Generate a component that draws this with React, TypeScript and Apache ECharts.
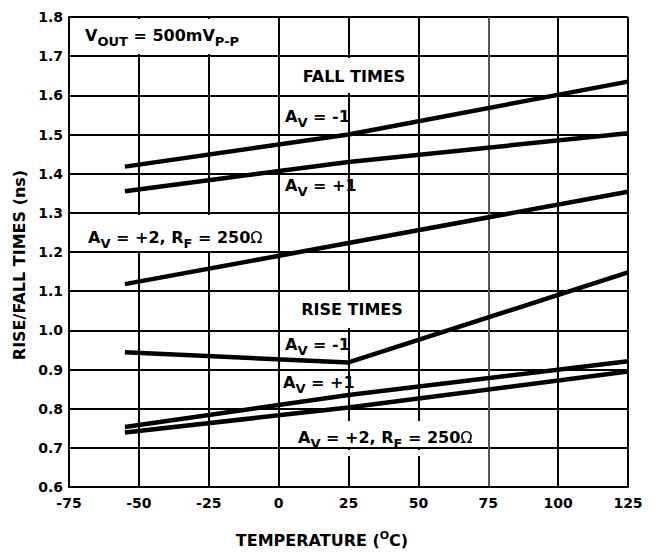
import React, { useEffect, useRef } from 'react';
import * as echarts from 'echarts';

// Temperatures (°C) at which each curve is read
const temperatures = [-55, 25, 125];

// Fall times (ns)
const fallAvMinus1 = [1.418, 1.5, 1.635];
const fallAvPlus1 = [1.355, 1.43, 1.503];
const fallAvPlus2 = [1.118, 1.223, 1.354];

// Rise times (ns)
const riseAvMinus1 = [0.944, 0.918, 1.148];
const riseAvPlus1 = [0.753, 0.835, 0.921];
const riseAvPlus2 = [0.739, 0.803, 0.895];

const FONT = 'DejaVu Sans';

const pairs = (ys: number[]) => temperatures.map((t, i) => [t, ys[i]]);

const rich = {
  m: { fontSize: 16, fontWeight: 'bold', fontFamily: FONT, fill: '#000' },
  s: { fontSize: 13, fontWeight: 'bold', fontFamily: FONT, fill: '#000', padding: [12, 0, 0, 0] },
  o: { fontSize: 16, fontWeight: 'normal', fontFamily: FONT, fill: '#000' },
  sup: { fontSize: 11, fontWeight: 'bold', fontFamily: FONT, fill: '#000', padding: [0, 0, 10, 0] },
};

const label = (text: string, x: number, y: number, align: string = 'left', rotation = 0) => ({
  type: 'text',
  x,
  y,
  z: 10,
  rotation,
  style: { text, rich, align, verticalAlign: 'middle', fill: '#000', fontFamily: FONT, fontWeight: 'bold', fontSize: 16 },
});

const box = (x: number, y: number, w: number, h: number) => ({
  type: 'rect',
  z: 1,
  shape: { x, y, width: w, height: h },
  style: { fill: '#fff' },
});

export default function App() {
  const ref = useRef<HTMLDivElement>(null);
  useEffect(() => {
    const chart = echarts.init(ref.current!, null, { renderer: 'svg' });
    const lineSeries = (data: number[]) => ({
      type: 'line',
      data: pairs(data),
      symbol: 'none',
      z: 3,
      lineStyle: { color: '#000', width: 4.5, cap: 'butt' },
    });
    chart.setOption({
      animation: false,
      backgroundColor: '#fff',
      grid: { left: 69, top: 17, right: 31, bottom: 67, containLabel: false },
      xAxis: {
        type: 'value',
        min: -75,
        max: 125,
        interval: 25,
        axisLine: { show: true, onZero: false, lineStyle: { color: '#000', width: 2 } },
        axisTick: { show: false },
        axisLabel: { color: '#000', fontFamily: FONT, fontWeight: 'bold', fontSize: 14, margin: 9 },
        splitLine: {
          show: true,
          lineStyle: { color: ['#000', '#000', '#000', '#000', '#000', '#000', '#555', '#000', '#000'], width: 2 },
        },
      },
      yAxis: {
        type: 'value',
        min: 0.6,
        max: 1.8,
        interval: 0.1,
        axisLine: { show: true, onZero: false, lineStyle: { color: '#000', width: 2 } },
        axisTick: { show: false },
        axisLabel: {
          color: '#000',
          fontFamily: FONT,
          fontWeight: 'bold',
          fontSize: 14,
          margin: 6,
          formatter: (v: number) => v.toFixed(1),
        },
        splitLine: { show: true, lineStyle: { color: '#000', width: 2 } },
      },
      series: [
        lineSeries(fallAvMinus1),
        lineSeries(fallAvPlus1),
        lineSeries(fallAvPlus2),
        lineSeries(riseAvMinus1),
        lineSeries(riseAvPlus1),
        lineSeries(riseAvPlus2),
      ],
      graphic: [
        box(71, 19, 205, 35),
        box(290, 58, 122, 35),
        box(76, 215, 187, 36),
        box(290, 292, 122, 36),
        box(285, 421, 187, 26),
        box(285, 450, 187, 6),
        label('{m|V}{s|OUT}{m| = 500mV}{s|P-P}', 85, 35),
        label('{m|FALL TIMES}', 354, 76, 'center'),
        label('{m|A}{s|V}{m| = -1}', 285, 116.5),
        label('{m|A}{s|V}{m| = +1}', 285, 185.5),
        label('{m|A}{s|V}{m| = +2, R}{s|F}{m| = 250}{o|\u03A9}', 88, 237),
        label('{m|RISE TIMES}', 352, 309.5, 'center'),
        label('{m|A}{s|V}{m| = -1}', 285, 344),
        label('{m|A}{s|V}{m| = +1}', 283, 382),
        label('{m|A}{s|V}{m| = +2, R}{s|F}{m| = 250}{o|\u03A9}', 298, 437),
        label('{m|TEMPERATURE (}{sup|O}{m|C)}', 322, 540, 'center'),
        label('{m|RISE/FALL TIMES (ns)}', 19, 265, 'center', Math.PI / 2),
      ],
    });
    return () => chart.dispose();
  }, []);
  return <div ref={ref} style={{ position: 'absolute', left: 0, top: 0, width: 659, height: 554 }} />;
}
